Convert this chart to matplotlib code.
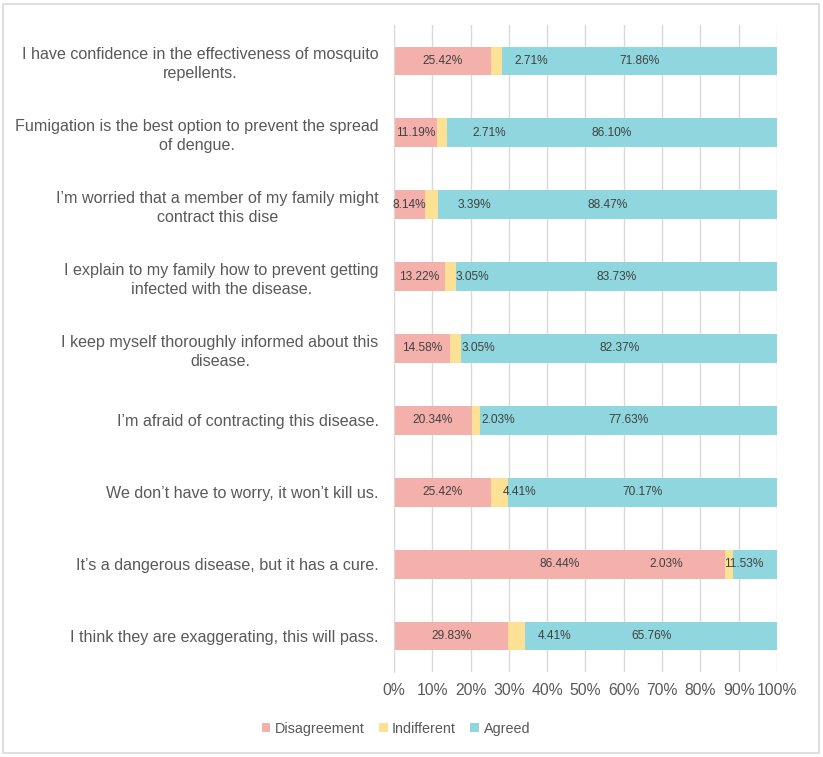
import matplotlib
matplotlib.use('Agg')
import matplotlib.pyplot as plt
from matplotlib.patches import Rectangle

plt.rcParams['font.family'] = ['Liberation Sans', 'DejaVu Sans']

# Data (top to bottom as in the picture)
statements = [
    'I have confidence in the effectiveness of mosquito\nrepellents.',
    'Fumigation is the best option to prevent the spread\nof dengue.',
    'I\u2019m worried that a member of my family might\ncontract this dise',
    'I explain to my family how to prevent getting\ninfected with the disease.',
    'I keep myself thoroughly informed about this\ndisease.',
    'I\u2019m afraid of contracting this disease.',
    'We don\u2019t have to worry, it won\u2019t kill us.',
    'It\u2019s a dangerous disease, but it has a cure.',
    'I think they are exaggerating, this will pass.',
]
disagreement = [25.42, 11.19, 8.14, 13.22, 14.58, 20.34, 25.42, 86.44, 29.83]
indifferent = [2.71, 2.71, 3.39, 3.05, 3.05, 2.03, 4.41, 2.03, 4.41]
agreed = [71.86, 86.10, 88.47, 83.73, 82.37, 77.63, 70.17, 11.53, 65.76]
# where the (moved) labels of the small yellow segments sit, in %
indiff_label_x = [35.9, 24.8, 20.9, 20.5, 22.0, 27.3, 32.7, 71.1, 42.0]

c_dis = '#F4B1AB'
c_ind = '#FCE094'
c_agr = '#8FD6DE'
txt = '#595959'

fig = plt.figure(figsize=(8.23, 7.57), dpi=100)
ax = fig.add_axes([0.4787, 0.1123, 0.4654, 0.8547])

y = list(range(len(statements)))
left2 = [a + b for a, b in zip(disagreement, indifferent)]
ax.barh(y, disagreement, height=0.4, color=c_dis, label='Disagreement', zorder=2)
ax.barh(y, indifferent, left=disagreement, height=0.4, color=c_ind, label='Indifferent', zorder=2)
ax.barh(y, agreed, left=left2, height=0.4, color=c_agr, label='Agreed', zorder=2)

for i in y:
    ax.text(disagreement[i] / 2, i, '%.2f%%' % disagreement[i], ha='center', va='center',
            fontsize=8.6, color='#404040', zorder=3)
    ax.text(indiff_label_x[i], i, '%.2f%%' % indifferent[i], ha='center', va='center',
            fontsize=8.6, color='#404040', zorder=3)
    xa = min(left2[i] + agreed[i] / 2, 91.2)
    ax.text(xa, i, '%.2f%%' % agreed[i], ha='center', va='center',
            fontsize=8.6, color='#404040', zorder=3)

ax.set_xlim(0, 100)
ax.set_ylim(len(statements) - 0.5, -0.5)
ax.set_xticks(range(0, 101, 10))
ax.set_xticklabels(['%d%%' % v for v in range(0, 101, 10)], fontsize=11.3, color=txt)
ax.set_yticks(y)
ax.set_yticklabels(statements, fontsize=11.65, color=txt, multialignment='center',
                   linespacing=1.3)
ax.tick_params(axis='both', length=0)
ax.tick_params(axis='y', pad=11)
ax.tick_params(axis='x', pad=8)
ax.grid(axis='x', color='#D9D9D9', linewidth=1, zorder=0)
for s in ['top', 'right', 'bottom']:
    ax.spines[s].set_visible(False)
ax.spines['left'].set_color('#D9D9D9')

leg = fig.legend(loc='center', bbox_to_anchor=(0.481, 0.037), ncol=3, frameon=False,
                 fontsize=10.4, handlelength=0.6, handleheight=0.6, handletextpad=0.3,
                 columnspacing=1.0)
for t in leg.get_texts():
    t.set_color(txt)

fig.patches.append(Rectangle((0.004, 0.005), 0.991, 0.99, transform=fig.transFigure,
                             fill=False, edgecolor='#D9D9D9', linewidth=1.2))

fig.savefig('out.png', dpi=100)
